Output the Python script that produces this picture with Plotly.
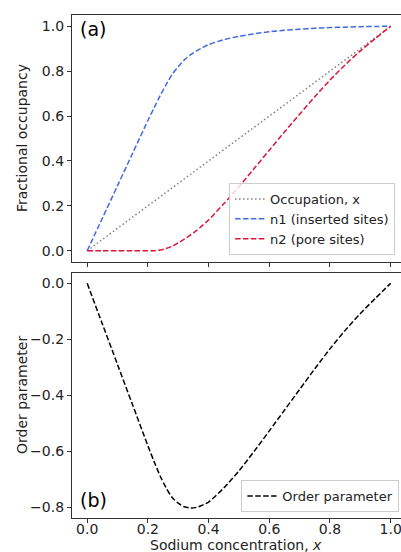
import plotly.graph_objects as go

x_vals = [0, 0.05, 0.1, 0.15, 0.2, 0.22, 0.24, 0.26, 0.28, 0.3, 0.32, 0.34, 0.36, 0.38,
          0.4, 0.45, 0.5, 0.55, 0.6, 0.65, 0.7, 0.75, 0.8, 0.85, 0.9, 0.95, 1.0]
occupation = [0, 0.05, 0.1, 0.15, 0.2, 0.22, 0.24, 0.26, 0.28, 0.3, 0.32, 0.34, 0.36, 0.38,
              0.4, 0.45, 0.5, 0.55, 0.6, 0.65, 0.7, 0.75, 0.8, 0.85, 0.9, 0.95, 1.0]
n1_inserted = [0, 0.145, 0.29, 0.435, 0.58, 0.635, 0.69, 0.74, 0.785, 0.82, 0.85, 0.872, 0.89, 0.905,
               0.918, 0.94, 0.955, 0.966, 0.975, 0.982, 0.987, 0.991, 0.994, 0.996, 0.998, 0.999, 1.0]
n2_pore = [0, 0, 0, 0, 0, 0.0, 0.003, 0.01, 0.02, 0.035, 0.052, 0.07, 0.09, 0.113,
           0.137, 0.209, 0.285, 0.366, 0.448, 0.529, 0.608, 0.686, 0.76, 0.828, 0.89, 0.946, 1.0]
order_param = [0, -0.145, -0.29, -0.435, -0.58, -0.635, -0.687, -0.73, -0.765, -0.785, -0.798, -0.802,
               -0.80, -0.792, -0.781, -0.731, -0.670, -0.600, -0.527, -0.453, -0.379, -0.305, -0.234,
               -0.168, -0.108, -0.053, 0]
tick_x = [0, 0.2, 0.4, 0.6, 0.8, 1.0]
tick_top = [0, 0.2, 0.4, 0.6, 0.8, 1.0]
tick_bottom = [0, -0.2, -0.4, -0.6, -0.8]

FONT = "DejaVu Sans"
W, H = 401, 552
L, T, B = 72, 15, 34
PW = W - L
PH = H - T - B

fig = go.Figure()
fig.add_trace(go.Scatter(x=x_vals, y=occupation, mode="lines", name="Occupation, x",
                         line=dict(color="#808080", width=1.5, dash="1.5px,2.5px"),
                         xaxis="x", yaxis="y", legend="legend"))
fig.add_trace(go.Scatter(x=x_vals, y=n1_inserted, mode="lines", name="n1 (inserted sites)",
                         line=dict(color="#4169E1", width=1.5, dash="5.5px,2.4px", shape="spline", smoothing=0.8),
                         xaxis="x", yaxis="y", legend="legend"))
fig.add_trace(go.Scatter(x=x_vals, y=n2_pore, mode="lines", name="n2 (pore sites)",
                         line=dict(color="#DC143C", width=1.5, dash="5.5px,2.4px", shape="spline", smoothing=0.8),
                         xaxis="x", yaxis="y", legend="legend"))
fig.add_trace(go.Scatter(x=x_vals, y=order_param, mode="lines", name="Order parameter",
                         line=dict(color="black", width=1.5, dash="5.5px,2.4px", shape="spline", smoothing=0.8),
                         xaxis="x2", yaxis="y2", legend="legend2"))

axis_common = dict(showline=True, linecolor="#333333", linewidth=1.2, mirror=True,
                   ticks="outside", ticklen=4, tickwidth=1, tickcolor="#333333",
                   showgrid=False, zeroline=False, ticklabeloverflow="allow",
                   tickfont=dict(family=FONT, size=14, color="#222222"))

top_bottom = (518 - 262) / PH
bot_top = (518 - 272.7) / PH
xr = [-0.05, 1.034]


def py(px):
    return (H - B - px) / PH


def pxx(px):
    return (px - L) / PW


fig.update_layout(
    width=W, height=H,
    margin=dict(l=L, r=0, t=T, b=B),
    paper_bgcolor="white", plot_bgcolor="white",
    font=dict(family=FONT, size=14, color="#222222"),
    xaxis=dict(domain=[0, 1], range=xr, anchor="y", tickvals=tick_x,
               showticklabels=False, **axis_common),
    yaxis=dict(domain=[top_bottom, 1], range=[-0.05, 1.05], anchor="x",
               tickvals=tick_top, tickformat=".1f", **axis_common),
    xaxis2=dict(domain=[0, 1], range=xr, anchor="y2", tickvals=tick_x,
                tickformat=".1f", ticklabelstandoff=-6, **axis_common),
    yaxis2=dict(domain=[0, bot_top], range=[-0.838, 0.038], anchor="x2",
                tickvals=tick_bottom, tickformat=".1f", **axis_common),
    legend=dict(x=0.982, y=py(255), xanchor="right", yanchor="bottom",
                bgcolor="rgba(255,255,255,0.8)", bordercolor="#cccccc", borderwidth=1,
                font=dict(family=FONT, size=13, color="#222222"), tracegroupgap=0,
                itemwidth=30),
    legend2=dict(x=0.995, y=py(512), xanchor="right", yanchor="bottom",
                 bgcolor="rgba(255,255,255,0.8)", bordercolor="#cccccc", borderwidth=1,
                 font=dict(family=FONT, size=13, color="#222222"), itemwidth=30),
    annotations=[
        dict(text="(a)", xref="paper", yref="paper", x=pxx(78), y=py(29),
             xanchor="left", yanchor="middle", showarrow=False, font=dict(family=FONT, size=19, color="black")),
        dict(text="(b)", xref="paper", yref="paper", x=pxx(78), y=py(500),
             xanchor="left", yanchor="middle", showarrow=False, font=dict(family=FONT, size=19, color="black")),
        dict(text="Sodium concentration, <i>x</i>", xref="paper", yref="paper", x=pxx(236),
             y=py(545), xanchor="center", yanchor="middle", showarrow=False,
             font=dict(family=FONT, size=14, color="#222222")),
        dict(text="Fractional occupancy", xref="paper", yref="paper", x=pxx(22), y=py(138),
             xanchor="center", yanchor="middle", textangle=-90, showarrow=False,
             font=dict(family=FONT, size=14, color="#222222")),
        dict(text="Order parameter", xref="paper", yref="paper", x=pxx(22), y=py(395),
             xanchor="center", yanchor="middle", textangle=-90, showarrow=False,
             font=dict(family=FONT, size=14, color="#222222")),
    ],
)

fig.write_html("out.html", config={"displayModeBar": False},
               post_script="document.body.style.margin='0';document.body.style.overflow='hidden';")
